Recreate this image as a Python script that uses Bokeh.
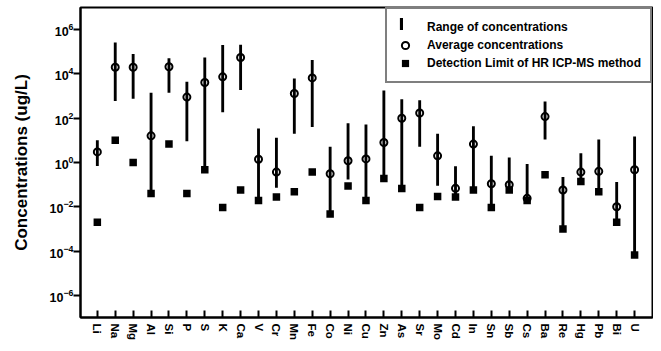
from bokeh.plotting import figure
from bokeh.models import Range1d, FixedTicker, Legend, LegendItem, ColumnDataSource
from bokeh.embed import file_html
from bokeh.resources import INLINE
from bokeh.core.properties import value

elements = ["Li", "Na", "Mg", "Al", "Si", "P", "S", "K", "Ca", "V", "Cr", "Mn", "Fe",
            "Co", "Ni", "Cu", "Zn", "As", "Sr", "Mo", "Cd", "In", "Sn", "Sb", "Cs",
            "Ba", "Re", "Hg", "Pb", "Bi", "U"]

avg_conc = [3.0, 2.0e4, 2.0e4, 16, 2.1e4, 900, 4100, 7400, 5.5e4, 1.4, 0.37, 1300, 6600,
            0.31, 1.2, 1.45, 8, 100, 173, 2.0, 0.068, 6.8, 0.11, 0.10, 0.024,
            118, 0.057, 0.37, 0.40, 0.010, 0.47]

max_conc = [10, 2.6e5, 8e4, 1400, 5.1e4, 4400, 5.5e4, 2e5, 2.1e5, 34, 13, 6200, 4.3e4,
            5.1, 60, 52, 1800, 720, 650, 20, 0.67, 43, 2.0, 1.67, 0.85,
            570, 0.22, 2.6, 11, 0.13, 15]

min_conc = [0.7, 600, 750, 0.04, 1400, 9, 0.47, 185, 1900, 0.019, 0.072, 20, 40,
            0.0047, 0.17, 0.019, 0.19, 0.067, 5.1, 0.09, 0.028, 0.057, 0.0093, 0.057, 0.019,
            11, 0.001, 0.14, 0.048, 0.002, 6.6e-5]

det_limit = [0.002, 10, 1.0, 0.04, 6.8, 0.04, 0.47, 0.0093, 0.057, 0.019, 0.028, 0.048, 0.37,
             0.0047, 0.086, 0.019, 0.19, 0.067, 0.0093, 0.029, 0.028, 0.057, 0.0093, 0.057, 0.019,
             0.28, 0.001, 0.14, 0.048, 0.002, 6.6e-5]

y_ticks = [1e-6, 1e-4, 1e-2, 1, 1e2, 1e4, 1e6]

xs = list(range(1, len(elements) + 1))
src = ColumnDataSource(dict(x=xs, avg=avg_conc, hi=max_conc, lo=min_conc, dl=det_limit))

FONT = "Liberation Sans"

p = figure(width=653, height=343, y_axis_type="log",
           x_range=Range1d(0.06, 32), y_range=Range1d(1e-7, 1e7),
           output_backend="svg", toolbar_location=None,
           min_border_left=80, min_border_right=1, min_border_top=7, min_border_bottom=24)

p.xgrid.visible = False
p.ygrid.visible = False
p.outline_line_color = "black"
p.outline_line_width = 2
p.background_fill_color = "white"
p.border_fill_color = "white"

# x axis
p.xaxis.ticker = FixedTicker(ticks=xs)
p.xaxis.major_label_overrides = {x: e for x, e in zip(xs, elements)}
p.xaxis.major_label_orientation = "vertical"
p.xaxis.major_tick_in = 7
p.xaxis.major_tick_out = 0
p.xaxis.minor_tick_line_color = None
p.xaxis.major_label_standoff = 6
p.xaxis.major_label_text_font = FONT
p.xaxis.major_label_text_font_style = "bold"
p.xaxis.major_label_text_font_size = "11.5px"
p.xaxis.major_label_text_color = "black"

# y axis
p.yaxis.ticker = FixedTicker(ticks=y_ticks)
p.yaxis.major_tick_out = 7
p.yaxis.major_tick_in = 0
p.yaxis.minor_tick_line_color = None
p.yaxis.major_label_standoff = 0
p.yaxis.major_label_text_font = FONT
p.yaxis.major_label_text_font_style = "bold"
p.yaxis.major_label_text_font_size = "12.5px"
p.yaxis.major_label_text_color = "black"
p.yaxis.axis_label = "Concentrations (ug/L)"
p.yaxis.axis_label_text_font = FONT
p.yaxis.axis_label_text_font_style = "bold"
p.yaxis.axis_label_text_font_size = "17px"
p.yaxis.axis_label_text_color = "black"
p.yaxis.axis_label_standoff = 16

for ax in (p.xaxis, p.yaxis):
    ax.axis_line_width = 2
    ax.axis_line_color = "black"
    ax.major_tick_line_width = 2
    ax.major_tick_line_color = "black"

bars = p.vbar(x="x", width=0.16, top="hi", bottom="lo", source=src,
              fill_color="black", line_color=None)
circ = p.scatter(x="x", y="avg", source=src, marker="circle", size=7,
                 fill_color=None, line_color="black", line_width=2)
sq = p.scatter(x="x", y="dl", source=src, marker="square", size=7.5,
               fill_color="black", line_color=None)

legend = Legend(items=[
    LegendItem(label=value("Range of concentrations"), renderers=[]),
    LegendItem(label=value("Average concentrations"), renderers=[circ]),
    LegendItem(label=value("Detection Limit of HR ICP-MS method"), renderers=[sq]),
], location="top_right", margin=0, padding=9, spacing=0,
    glyph_width=18, glyph_height=18, label_height=18, label_standoff=13,
    label_text_font=FONT, label_text_font_style="bold", label_text_font_size="12px",
    label_text_color="black",
    border_line_color="black", border_line_width=2,
    background_fill_color="white", background_fill_alpha=1.0)
p.add_layout(legend)

legend_bar = Legend(items=[LegendItem(label=value(" "), renderers=[bars])],
                    location=(319, 286.5), margin=0, padding=0, spacing=0,
                    glyph_width=4, glyph_height=15, label_height=15, label_width=0,
                    label_standoff=0, label_text_font_size="1px",
                    border_line_color=None, background_fill_alpha=0.0)
p.add_layout(legend_bar)

open("out.html", "w").write(file_html(p, INLINE))
